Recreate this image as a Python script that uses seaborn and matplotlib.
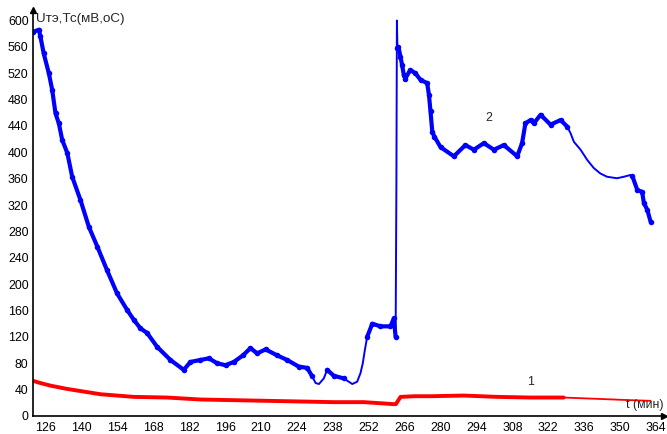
import numpy as np
import pandas as pd
import matplotlib
matplotlib.use("Agg")
import matplotlib.pyplot as plt
import seaborn as sns
from matplotlib.ticker import MultipleLocator

# ---- data ----
t_blue = [121.3, 123.4, 124.0, 125.3, 127.3, 128.6, 129.9, 131.2, 132.5, 134.5,
          136.4, 139.6, 142.9, 146.2, 150.0, 153.9, 157.8, 160.4, 163.0, 165.6,
          169.5, 174.7, 179.9, 182.5, 186.4, 189.7, 192.9, 196.2, 199.4, 203.0,
          205.9, 208.5, 211.8, 216.3, 220.2, 224.7, 228.0, 230.0, 231.3, 232.6,
          234.5, 235.8, 238.4, 242.3, 245.6, 247.5, 248.8, 249.7, 250.5, 251.4,
          253.4, 256.6, 260.5,
          261.8, 262.5, 262.8, 263.0, 263.2, 263.6, 264.4, 265.0, 265.7, 266.3,
          268.2, 270.2, 272.2, 274.8, 275.5, 276.1, 276.8, 277.6, 280.0, 285.2,
          289.7, 293.0, 296.9, 300.8, 304.7, 309.9, 311.8, 313.1, 315.1, 316.4,
          319.0, 322.9, 326.8, 329.4, 330.7, 332.0, 334.6, 337.2, 339.8, 342.3,
          344.9, 348.8, 351.5, 354.1, 354.8, 356.7,
          358.6, 359.3, 360.6, 361.9]
v_blue = [583, 586, 576, 550, 520, 495, 459, 444, 419, 399,
          363, 328, 287, 257, 221, 186, 161, 146, 133, 126,
          105, 85, 70, 82, 85, 87.5, 80, 77, 82, 92,
          103, 95, 101, 92, 85, 75, 73, 60, 50, 48.5,
          57, 70, 61, 57, 48.5, 52, 65, 80, 100, 120,
          140, 136, 136,
          148, 120, 350, 600, 558, 560, 545, 533, 517, 512,
          525, 520, 510, 505, 487, 462, 431, 424, 408, 394,
          411, 404, 414, 404, 411, 394, 414, 444, 449, 444,
          457, 442, 449, 439, 429, 416, 404, 388.5, 376, 368,
          363, 360.7, 363, 365.7, 364, 343,
          340, 323, 313, 295]

t_red = [121.4, 124.0, 128.0, 134.5, 141.0, 147.4, 160.4, 173.4, 186.4, 199.4,
         212.4, 225.4, 238.4, 250.1, 258.0, 261.5, 262.6, 264.4, 270.0, 276.1,
         289.1, 302.1, 315.1, 328.0, 341.1, 354.1, 361.9]
v_red = [53, 50, 46, 41, 37, 33, 29, 28, 25, 24,
         23, 22, 21, 21, 19, 18, 18, 29, 30, 30,
         31, 29, 28, 28, 26, 24, 23]

x_ticks = list(range(126, 365, 14))
y_ticks = list(range(0, 601, 40))
y_label = "Uтэ,Тс(мВ,оС)"
x_label = "t (мин)"
curve_labels = ["1", "2"]

# ---- styling ----
sns.set_style("white")
plt.rcParams["font.family"] = ["Liberation Sans", "DejaVu Sans"]
FS = 8.9

fig = plt.figure(figsize=(6.67, 4.34), dpi=100)
ax = fig.add_axes([0.049, 0.0415, 0.946, 0.9355])

blue = pd.DataFrame({"t": t_blue, "v": v_blue})
red = pd.DataFrame({"t": t_red, "v": v_red})

sns.lineplot(data=red, x="t", y="v", sort=False, estimator=None, color="#ff0000",
             lw=1.3, ax=ax)
dense_r = red["t"] < 330
ax.plot(red["t"].where(dense_r), red["v"].where(dense_r), color="#ff0000", lw=2.8,
        solid_capstyle="round")

sns.lineplot(data=blue, x="t", y="v", sort=False, estimator=None, color="#0000ff",
             lw=1.4, ax=ax)
tb = blue["t"]
dense_b = (((tb <= 230) | ((tb >= 235.5) & (tb <= 244)) | ((tb >= 251) & (tb <= 262.5))
            | ((tb >= 263.1) & (tb <= 330)) | ((tb >= 354.8)))) & ~tb.between(262.6, 263.05)
ax.plot(tb.where(dense_b), blue["v"].where(dense_b), color="#0000ff", lw=3.0,
        solid_capstyle="round")
ax.plot(tb[dense_b], blue["v"][dense_b], "o", color="#0000ff", ms=4, mew=0)

ax.set_xlim(121, 367)
ax.set_ylim(0, 616)
ax.set_xticks(x_ticks)
ax.set_yticks(y_ticks)
ax.xaxis.set_minor_locator(MultipleLocator(7))
ax.yaxis.set_minor_locator(MultipleLocator(20))
ax.tick_params(which="both", direction="inout", length=5, width=1.2, color="black",
               labelsize=FS, labelcolor="black")
ax.tick_params(axis="x", which="major", pad=2)
ax.tick_params(axis="y", which="major", pad=0.5)
ax.set_xlabel("")
ax.set_ylabel("")
for s in ["top", "right"]:
    ax.spines[s].set_visible(False)
for s in ["left", "bottom"]:
    ax.spines[s].set_color("black")
    ax.spines[s].set_linewidth(1.2)

ax.plot(1, 0, ">", color="black", ms=5, transform=ax.transAxes, clip_on=False)
ax.plot(0, 1, "^", color="black", ms=5, transform=ax.transAxes, clip_on=False)

ax.text(0.006, 0.977, y_label, transform=ax.transAxes, fontsize=9.6, ha="left", va="center")
ax.text(0.999, 0.028, x_label, transform=ax.transAxes, fontsize=FS, ha="right", va="center")
ax.text(315, 51, curve_labels[0], fontsize=FS, ha="center", va="center")
ax.text(299, 452, curve_labels[1], fontsize=FS, ha="center", va="center")

fig.savefig("out.png", dpi=100)
